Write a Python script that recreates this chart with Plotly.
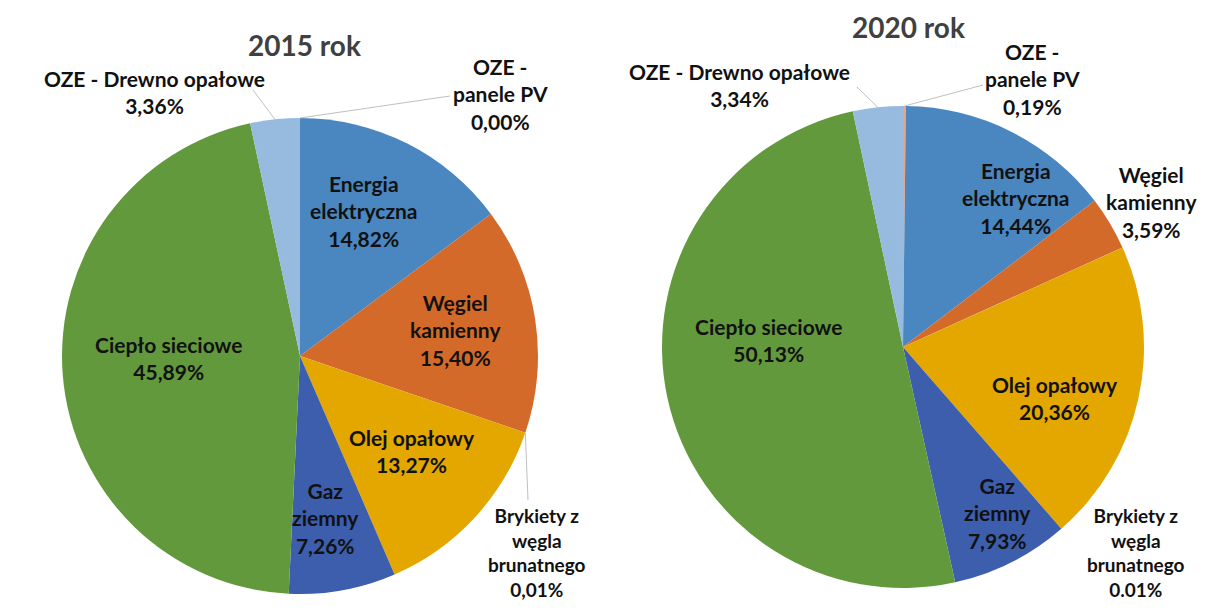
import math
import plotly.graph_objects as go

# page is 1208x612; the browser's default body margin is 8 px
PAGE_W, PAGE_H, OFF = 1208, 612, 8
W, H = PAGE_W - 2 * OFF, PAGE_H - 2 * OFF

labels = ["OZE - panele PV", "Energia elektryczna", "Węgiel kamienny",
          "Brykiety z węgla brunatnego", "Olej opałowy", "Gaz ziemny",
          "Ciepło sieciowe", "OZE - Drewno opałowe"]
values_2015 = [0.00, 14.82, 15.40, 0.01, 13.27, 7.26, 45.89, 3.36]
values_2020 = [0.19, 14.44, 3.59, 0.01, 20.36, 7.93, 50.13, 3.34]
pct_2015 = ["0,00%", "14,82%", "15,40%", "0,01%", "13,27%", "7,26%", "45,89%", "3,36%"]
pct_2020 = ["0,19%", "14,44%", "3,59%", "0.01%", "20,36%", "7,93%", "50,13%", "3,34%"]
# label names with the line breaks used on the chart
names = ["OZE -<br>panele PV", "Energia<br>elektryczna", "Węgiel<br>kamienny",
         "Brykiety z<br>węgla<br>brunatnego", "Olej opałowy", "Gaz<br>ziemny",
         "Ciepło sieciowe", "OZE - Drewno opałowe"]

colors = ["#F1A183", "#4A86C0", "#D46A2A", "#8C8C8C", "#E3A700", "#3C5EAD",
          "#63993D", "#97BADF"]
# the Brykiety label is set a little smaller
label_sizes = [21, 21, 21, 19, 21, 21, 21, 21]

# pie geometry in page pixels (centre x, centre y, radius)
pies = {
    "2015": dict(cx=300, cy=356, r=238, title_xy=(304, 45)),
    "2020": dict(cx=903, cy=347, r=241, title_xy=(908, 27)),
}
# label centres in page pixels, per slice
label_pos = {
    "2015": [(500, 94), (364, 211), (455, 330), (537, 552), (412, 451),
             (326, 518), (168, 358), (154, 92)],
    "2020": [(1032, 79), (1016, 198), (1151, 202), (1136, 552), (1055, 398),
             (997, 513), (768, 340), (739, 85)],
}
# leader lines: slice index -> far end (page pixels)
leaders = {
    "2015": {0: (450, 96), 3: (528, 500), 7: (253, 90)},
    "2020": {0: (983, 85), 7: (857, 87)},
}


def px(x, y):
    return (x - OFF) / W, 1 - (y - OFF) / H


fig = go.Figure()
annotations = []
shapes = []

for year, vals, pcts in [("2015", values_2015, pct_2015),
                         ("2020", values_2020, pct_2020)]:
    g = pies[year]
    x0, y1 = px(g["cx"] - g["r"], g["cy"] - g["r"])
    x1, y0 = px(g["cx"] + g["r"], g["cy"] + g["r"])
    fig.add_trace(go.Pie(
        labels=labels, values=vals, sort=False, direction="clockwise",
        rotation=0, textinfo="none", showlegend=False,
        marker=dict(colors=colors, line=dict(width=0)),
        domain=dict(x=[x0, x1], y=[y0, y1]),
    ))
    tx, ty = px(*g["title_xy"])
    annotations.append(dict(x=tx, y=ty, xref="paper", yref="paper", showarrow=False,
                            xanchor="center", yanchor="middle",
                            text="<b>%s rok</b>" % year,
                            font=dict(size=28, color="#404040")))
    for i, (lx, ly) in enumerate(label_pos[year]):
        ax, ay = px(lx, ly)
        annotations.append(dict(x=ax, y=ay, xref="paper", yref="paper", showarrow=False,
                                xanchor="center", yanchor="middle",
                                text="<b>%s<br>%s</b>" % (names[i], pcts[i]),
                                align="center",
                                font=dict(size=label_sizes[i], color="#111111")))
    total = sum(vals)
    for i, (ex, ey) in leaders[year].items():
        mid = (sum(vals[:i]) + vals[i] / 2) / total * 2 * math.pi
        sx = g["cx"] + g["r"] * math.sin(mid)
        sy = g["cy"] - g["r"] * math.cos(mid)
        p0 = px(sx, sy)
        p1 = px(ex, ey)
        shapes.append(dict(type="line", xref="paper", yref="paper",
                           x0=p0[0], y0=p0[1], x1=p1[0], y1=p1[1],
                           line=dict(color="#BFBFBF", width=1)))

fig.update_layout(width=W, height=H, margin=dict(l=0, r=0, t=0, b=0),
                  paper_bgcolor="white", plot_bgcolor="white",
                  font=dict(family="Lato, Open Sans, sans-serif"),
                  annotations=annotations, shapes=shapes)

fig.write_html("out.html")
